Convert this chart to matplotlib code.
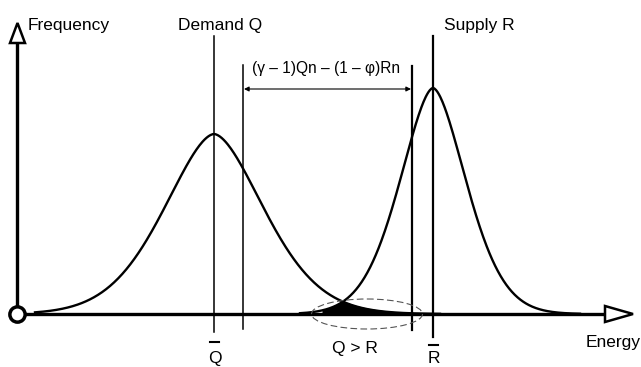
import numpy as np
import matplotlib
matplotlib.use("Agg")
import matplotlib.pyplot as plt
from matplotlib.patches import Ellipse, Polygon

plt.rcParams['font.family'] = ['Liberation Sans', 'DejaVu Sans']

# --------- Data (pixel-like units of the sketch) ----------
demand_mean, demand_sd, demand_peak = 214, 48, 180
supply_mean, supply_sd, supply_peak = 433, 32, 226
tail_shape = 1.7                    # a bit heavier tails than a gaussian
demand_range = (35, 440)
supply_range = (300, 580)
gap_left, gap_right = 243, 412      # (γ-1)Qn and (1-φ)Rn markers
overlap_range = (322, 413)
base_y = 314

# --------- Setup Figure ----------
fig = plt.figure(figsize=(6.41, 3.67), dpi=100, facecolor="white")
ax = fig.add_axes([0, 0, 1, 1])
ax.set_xlim(0, 641)
ax.set_ylim(367, 0)
ax.axis('off')


def curve(x, mean, sd, peak):
    z = np.abs((x - mean) / sd)
    return base_y - peak * np.exp(-0.5 * z ** tail_shape)


xd = np.linspace(*demand_range, 400)
xs = np.linspace(*supply_range, 400)
ax.plot(xd, curve(xd, demand_mean, demand_sd, demand_peak), color="black", lw=1.7, zorder=3)
ax.plot(xs, curve(xs, supply_mean, supply_sd, supply_peak), color="black", lw=1.7, zorder=3)

# overlap region (Q > R)
xo = np.linspace(*overlap_range, 300)
top = np.maximum(curve(xo, demand_mean, demand_sd, demand_peak),
                 curve(xo, supply_mean, supply_sd, supply_peak))
ax.fill_between(xo, top - 1, base_y, color="black", lw=0, zorder=3)
ax.add_patch(Ellipse((367, base_y), 111, 30, fill=False, ls=(0, (6, 3)),
                     lw=0.8, ec="#555555", zorder=4))

# --------- Axes arrows ----------
ax.plot([17, 17], [base_y, 43], color="black", lw=2.4, zorder=2, solid_capstyle="butt")
ax.add_patch(Polygon([(10, 43), (25, 43), (17.5, 23)], closed=True,
                     fc="white", ec="black", lw=1.8, zorder=5))
ax.plot([17, 605], [base_y, base_y], color="black", lw=2.4, zorder=2, solid_capstyle="butt")
ax.add_patch(Polygon([(605, base_y - 8), (605, base_y + 8), (633, base_y)], closed=True,
                     fc="white", ec="black", lw=1.8, zorder=5))
ax.plot([17], [base_y], marker="o", ms=11, mfc="white", mec="black", mew=2.5, zorder=6)

# --------- Vertical markers ----------
ax.plot([demand_mean, demand_mean], [36, 332], color="black", lw=1.1, zorder=2)
ax.plot([supply_mean, supply_mean], [36, 337], color="black", lw=1.6, zorder=2)
ax.plot([gap_left, gap_left], [65, 329], color="black", lw=1.1, zorder=2)
ax.plot([gap_right, gap_right], [66, 330], color="black", lw=1.6, zorder=2)

ax.annotate("", xy=(gap_left + 1, 89), xytext=(gap_right - 1, 89),
            arrowprops=dict(arrowstyle="<|-|>", lw=0.8, color="black",
                            mutation_scale=7, shrinkA=0, shrinkB=0))

# --------- Labels ----------
fs = 12.5
ax.text(28, 30, "Frequency", fontsize=fs, va="baseline", ha="left")
ax.text(220, 30, "Demand Q", fontsize=fs, va="baseline", ha="center")
ax.text(479, 30, "Supply R", fontsize=fs, va="baseline", ha="center")
ax.text(326, 73, "(γ – 1)Qn – (1 – φ)Rn", fontsize=11.2, va="baseline", ha="center")
ax.text(613, 347, "Energy", fontsize=fs, va="baseline", ha="center")
ax.text(355, 353, "Q > R", fontsize=fs, va="baseline", ha="center")

ax.plot([210, 219], [342, 342], color="black", lw=1.5)
ax.text(214.5, 363, "Q", fontsize=fs, va="baseline", ha="center")
ax.plot([429, 438], [345, 345], color="black", lw=1.5)
ax.text(433.5, 363, "R", fontsize=fs, va="baseline", ha="center")

fig.savefig("out.png", dpi=100, facecolor="white")
